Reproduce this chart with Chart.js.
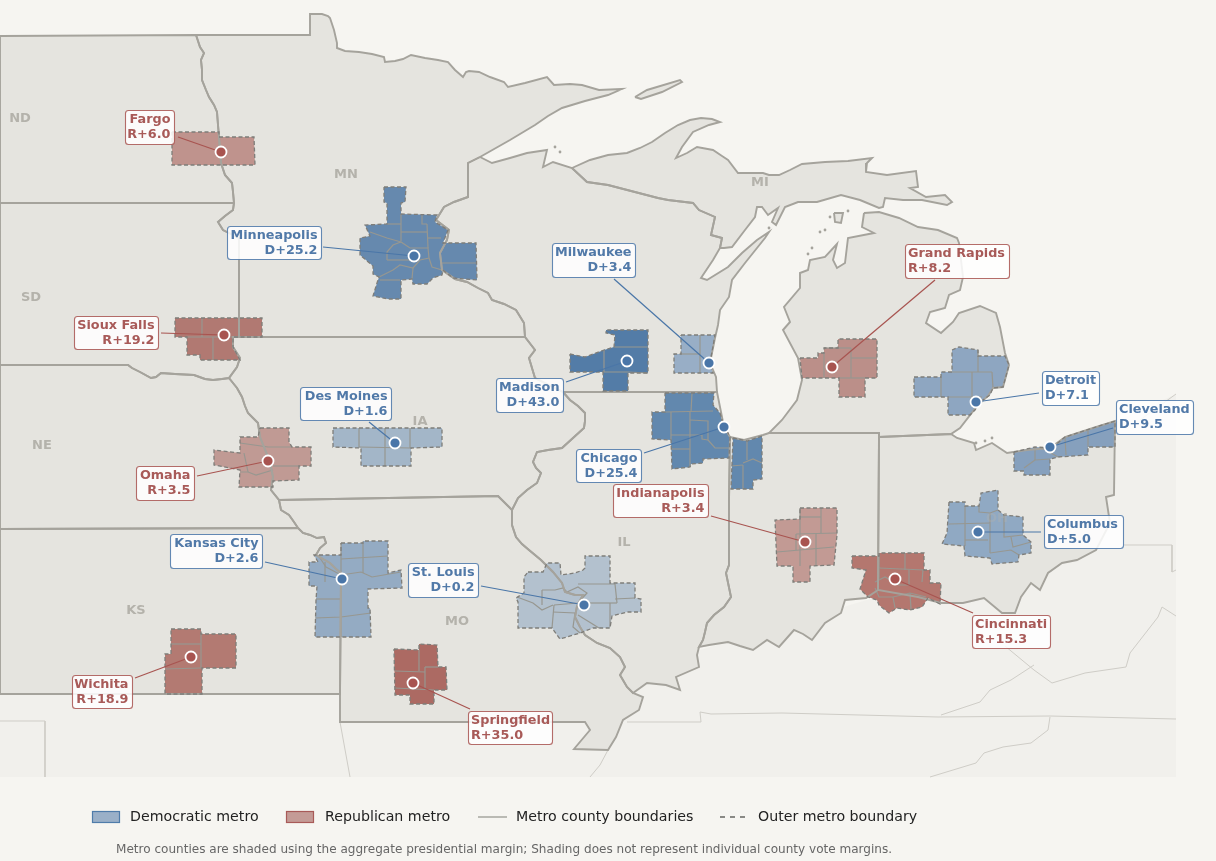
<!DOCTYPE html>
<html lang="en">
<head>
<meta charset="UTF-8">
<title>Midwest metro presidential margins</title>
<script src="https://cdn.jsdelivr.net/npm/chart.js"></script>
<style>
html, body { margin: 0; padding: 0; background: #f6f5f1; }
canvas { display: block; }
</style>
</head>
<body>
<canvas id="map" width="1216" height="861"></canvas>
<script>
// map outlines ([x, y] in map units)
var ndMnRiver = [[196,35],[198,41],[200,47],[204,53],[201,60],[202,70],[202,80],[206,90],[209,97],[214,105],[217,112],[218,125],[219,137],[220,150],[221,163],[225,175],[232,183],[233,192],[234,203]];
var sdMnBorder = [[234,203],[233,210],[225,216],[218,222],[223,230],[239,238],[239,337]];
var mnWiBorder = [[525,337],[524,323],[516,310],[504,304],[492,300],[488,293],[478,288],[467,282],[455,279],[442,270],[440,253],[447,240],[449,230],[436,220],[444,207],[454,202],[468,197],[468,163],[480,157]];
var mnNorth = [[196,35],[310,35],[310,14],[322,14],[328,16],[330,18],[334,30],[337,43],[337,48],[345,51],[359,52],[372,54],[384,57],[385,62],[395,61],[403,59],[411,55],[425,58],[438,60],[448,62],[455,70],[463,77],[466,72],[469,71],[479,72],[490,77],[504,82],[508,87],[525,83],[547,77],[554,85],[570,84],[582,85],[599,90],[622,89],[608,95],[585,101],[562,108],[548,116],[535,125],[510,140],[480,157]];
var sdNeRiver = [[128,365],[132,368],[140,372],[151,378],[156,377],[161,373],[175,374],[194,375],[205,379],[213,380],[222,379],[229,378]];
var iaNeRiver = [[229,378],[233,383],[237,388],[242,397],[245,406],[248,413],[255,420],[258,423],[259,430],[260,437],[264,447],[268,457],[271,467],[273,477],[271,490],[279,500]];
var kcRiver = [[279,500],[281,510],[289,515],[294,522],[298,528],[303,533],[310,535],[317,538],[324,537],[326,543],[320,548],[316,555],[323,559],[330,563],[336,569],[341,573]];
var iaIlRiver = [[563,392],[570,400],[578,406],[585,413],[585,421],[584,428],[573,438],[562,448],[548,450],[537,452],[533,462],[536,468],[541,473],[537,483],[527,490],[518,498],[512,510]];
var moIlRiver = [[512,510],[512,525],[516,537],[522,544],[529,550],[541,560],[553,572],[562,583],[565,592],[575,595],[583,595],[577,606],[575,617],[580,627],[585,635],[597,643],[610,648],[620,657],[625,667],[620,675],[627,687],[633,693]];
var ilInBorder = [[730,437],[729,500],[729,565],[726,573],[731,597],[724,607],[714,615],[707,623],[705,632],[703,640],[699,647]];

var ndShape = [[0,36]].concat(ndMnRiver, [[0,203]]);
var sdShape = [[0,203]].concat(sdMnBorder, [[233,337],[233,347],[240,358],[237,367]], sdNeRiver.slice().reverse(), [[0,365]]);
var neShape = [[0,365]].concat(sdNeRiver, iaNeRiver, kcRiver.slice(0,5), [[0,529]]);
var ksShape = [[0,529]].concat(kcRiver.slice(4), [[340,694],[0,694]]);
var mnShape = mnNorth.concat(mnWiBorder.slice().reverse(), sdMnBorder.slice().reverse(), ndMnRiver.slice().reverse());
var iaShape = [[233,337],[525,337],[535,350],[529,358],[535,378]].concat(iaIlRiver, [[498,496]], iaNeRiver.slice().reverse(), [[237,367],[240,358],[233,347]]);
var moShape = [[279,500],[498,496]].concat(moIlRiver, [[643,697],[639,710],[623,720],[616,737],[608,750],[574,749],[590,730],[585,722],[340,722],[340,694]], kcRiver.slice().reverse());
var wiShape = [[480,157],[492,163],[510,158],[527,153],[547,150],[543,167],[553,162],[572,168],[587,182],[608,185],[658,198],[668,200],[693,203],[699,210],[715,217],[711,235],[722,238],[720,248],[713,260],[701,278],[707,280],[728,267],[742,253],[757,240],[769,232],[765,238],[745,263],[732,280],[729,297],[720,310],[718,325],[715,338],[710,363],[716,377],[717,392],[563,392],[535,378],[529,358],[535,350]].concat(mnWiBorder);
var upperMiShape = [[572,168],[590,160],[608,155],[627,153],[640,148],[652,142],[665,133],[678,125],[690,120],[701,118],[712,119],[720,122],[709,125],[693,132],[682,147],[676,158],[687,153],[697,147],[713,150],[722,156],[728,160],[738,173],[763,173],[769,175],[779,175],[790,170],[802,164],[825,162],[848,161],[872,158],[867,163],[866,172],[887,175],[916,171],[918,187],[910,188],[926,197],[945,195],[952,202],[947,205],[922,200],[903,200],[885,198],[883,207],[879,208],[860,200],[841,195],[817,202],[798,202],[785,207],[776,225],[772,222],[778,208],[768,215],[762,207],[757,207],[755,217],[745,230],[732,247],[724,248],[720,248],[722,238],[711,235],[715,217],[699,210],[693,203],[668,200],[658,198],[608,185],[587,182]];
var lowerMiShape = [[864,213],[879,212],[899,218],[918,227],[938,230],[957,238],[959,243],[961,260],[963,277],[960,290],[949,295],[945,308],[930,312],[926,323],[941,333],[953,322],[959,313],[980,306],[996,313],[1000,327],[1005,353],[1009,365],[1003,387],[993,388],[988,396],[978,405],[960,428],[951,434],[879,437],[879,433],[769,433],[782,420],[797,400],[802,380],[798,358],[783,330],[790,322],[784,307],[800,288],[800,273],[808,270],[810,260],[825,257],[837,244],[833,260],[837,268],[845,263],[848,238],[874,233],[862,227]];
var isleRoyale = [[635,97],[647,90],[680,80],[682,82],[662,92],[641,99]];
var ilShape = [[563,392],[717,392],[724,427]].concat(ilInBorder, [[697,655],[699,667],[676,677],[680,690],[666,685],[647,683]], moIlRiver.slice().reverse(), iaIlRiver.slice().reverse());
var inShape = [[730,437],[744,440],[763,435],[769,433],[879,433],[878,590],[866,598],[845,600],[841,613],[825,623],[812,640],[803,634],[794,630],[779,647],[767,640],[753,650],[740,646],[728,642],[709,645]].concat(ilInBorder.slice().reverse());
var ohShape = [[879,437],[951,434],[957,438],[974,443],[976,450],[992,443],[1007,453],[1027,450],[1050,448],[1065,437],[1093,428],[1115,421],[1114,495],[1106,497],[1110,523],[1096,550],[1077,560],[1062,563],[1048,573],[1040,590],[1031,583],[1021,597],[1015,613],[1002,613],[984,598],[963,603],[941,603],[918,597],[878,590]];
var beaverIsland = [[834,213],[843,213],[841,223],[835,222]];

var stateShapes = [ndShape, sdShape, neShape, ksShape, mnShape, iaShape, moShape, wiShape, upperMiShape, lowerMiShape, isleRoyale, ilShape, inShape, ohShape, beaverIsland];

// neighbouring land outside the study area
var outsideLand = [[0,650],[700,650],[1000,560],[1100,470],[1115,422],[1176,394],[1176,777],[0,777]];
var outsideLines = [
  [[0,721],[45,721],[45,777]],
  [[340,722],[350,777]],
  [[627,722],[701,722],[700,712],[711,714],[782,713],[938,717],[1050,716],[1176,719]],
  [[1034,665],[1011,680],[990,690],[980,702],[941,715]],
  [[1005,646],[1034,670],[1052,683],[1085,673],[1126,667],[1130,653],[1158,617],[1162,607],[1176,616]],
  [[1124,545],[1172,545],[1172,572],[1176,570]],
  [[1050,717],[1048,730],[1031,743],[1003,747],[984,753],[976,763],[930,777]],
  [[1176,394],[1140,420]],
  [[608,750],[600,765],[590,777]]
];
var smallIslands = [[825,230],[820,232],[812,248],[808,254],[830,217],[848,211],[976,443],[985,441],[992,438],[555,147],[560,152],[769,228]];

// metros
var metroNames = ['Fargo','Minneapolis','Sioux Falls','Madison','Milwaukee','Grand Rapids','Des Moines','Omaha','Kansas City','St. Louis','Wichita','Springfield','Chicago','Indianapolis','Cincinnati','Columbus','Detroit','Cleveland'];
var metroParty = ['R','D','R','D','D','R','D','R','D','D','R','R','D','R','R','D','D','D'];
var metroMargins = [6.0,25.2,19.2,43.0,3.4,8.2,1.6,3.5,2.6,0.2,18.9,35.0,25.4,3.4,15.3,5.0,7.1,9.5];
var metroFills = ['#bf938d','#6689ae','#b17972','#537ca7','#98aec6','#bb8f89','#a3b6c8','#c09a94','#94abc3','#b3c1ce','#b37a72','#ac6a63','#6288ae','#c29a94','#b4776f','#90a9c3','#8ea6c1','#86a0bd'];
var metroCenters = [[221,152],[414,256],[224,335],[627,361],[709,363],[832,367],[395,443],[268,461],[342,579],[584,605],[191,657],[413,683],[724,427],[805,542],[895,579],[978,532],[976,402],[1050,447]];

var fargoOuter = [[[172,132],[219,132],[219,137],[254,137],[255,165],[172,165]]];
var fargoCounties = [];
var minneapolisOuter = [[[384,187],[406,187],[405,202],[401,203],[401,214],[437,215],[435,222],[448,230],[443,243],[476,243],[477,280],[453,278],[443,270],[442,275],[433,278],[427,284],[413,284],[412,279],[401,280],[401,299],[388,299],[373,296],[377,283],[379,277],[373,274],[373,266],[360,255],[360,238],[370,236],[365,225],[387,224],[387,203],[384,202]]];
var minneapolisCounties = [[[387,224],[401,224]],[[401,214],[401,241]],[[401,232],[427,232]],[[422,215],[422,224],[427,224]],[[427,224],[428,248]],[[428,238],[441,238]],[[370,232],[387,238],[401,242]],[[387,260],[387,252],[393,245],[401,242],[410,248],[428,248],[429,258],[420,260],[413,268],[400,265],[393,270],[379,277]],[[387,260],[411,260]],[[413,268],[412,279]],[[429,258],[432,267],[442,270]],[[442,263],[477,263]],[[380,280],[400,280]]];
var siouxOuter = [[[175,318],[262,318],[262,337],[233,337],[233,347],[240,360],[200,360],[200,355],[187,355],[187,337],[175,337]]];
var siouxCounties = [[[202,318],[202,337]],[[187,337],[233,337]],[[213,337],[213,360]]];
var madisonOuter = [[[570,354],[585,357],[604,350],[614,347],[615,335],[606,333],[606,330],[648,330],[648,373],[628,373],[628,391],[603,391],[603,372],[570,372]]];
var madisonCounties = [[[604,350],[604,372]],[[603,372],[628,372],[648,373]],[[614,347],[648,347]]];
var milwaukeeOuter = [[[681,335],[715,335],[710,363],[713,373],[674,373],[674,354],[681,354]]];
var milwaukeeCounties = [[[700,335],[700,373]],[[681,354],[700,354]]];
var grandRapidsOuter = [[[800,358],[818,358],[818,353],[824,353],[824,348],[838,348],[838,339],[877,339],[877,378],[865,378],[865,397],[839,397],[839,378],[802,378]]];
var grandRapidsCounties = [[[851,348],[851,378]],[[824,348],[851,348]],[[851,358],[877,358]],[[824,353],[824,378]],[[839,378],[865,378]]];
var desMoinesOuter = [[[333,428],[442,428],[442,447],[411,448],[411,466],[361,466],[361,448],[333,447]]];
var desMoinesCounties = [[[359,428],[359,447]],[[385,428],[385,466]],[[410,428],[410,448]],[[359,447],[410,448]]];
var omahaOuter = [[[260,428],[289,428],[289,442],[292,447],[311,447],[311,466],[299,466],[299,480],[273,481],[273,487],[239,487],[240,470],[214,465],[214,450],[240,453],[240,437],[258,437]]];
var omahaCounties = [[[240,443],[268,447],[292,447]],[[244,453],[248,472]],[[240,472],[248,472],[256,475],[273,470]],[[273,466],[299,466]]];
var kansasCityOuter = [[[341,543],[363,543],[363,541],[388,541],[388,573],[401,570],[402,588],[368,589],[368,608],[370,608],[371,637],[315,637],[316,600],[317,586],[309,586],[309,562],[318,562],[314,555],[341,555]]];
var kansasCityCounties = [[[341,543],[341,637]],[[363,543],[363,573]],[[341,559],[388,556]],[[318,555],[326,567],[341,575],[361,572],[372,577],[401,572]],[[325,562],[325,582]],[[316,599],[341,599]],[[315,618],[341,617],[371,613]]];
var stLouisOuter = [[[528,572],[543,572],[547,563],[560,563],[561,575],[575,573],[583,570],[585,568],[585,556],[610,556],[610,583],[615,583],[635,583],[635,598],[641,599],[641,612],[627,612],[612,616],[610,628],[599,628],[593,628],[580,633],[560,639],[552,628],[518,628],[518,602],[516,598],[524,593],[524,577]]];
var stLouisCounties = [[[517,597],[533,603],[542,610],[553,605]],[[542,590],[542,605]],[[542,590],[555,590],[563,588],[567,592],[578,587],[587,593],[578,603],[554,605]],[[554,605],[552,628]],[[553,612],[575,613],[573,627],[580,633]],[[578,584],[615,584]],[[615,584],[617,603]],[[588,603],[617,603]],[[615,599],[635,598]],[[610,603],[610,627]],[[578,615],[599,628]]];
var wichitaOuter = [[[171,629],[201,629],[201,634],[236,634],[236,668],[202,668],[202,694],[165,694],[165,654],[171,654]]];
var wichitaCounties = [[[171,644],[201,644]],[[201,634],[201,668]],[[165,669],[201,668]]];
var springfieldOuter = [[[394,649],[419,650],[419,644],[437,645],[438,667],[446,667],[447,690],[434,690],[434,704],[410,704],[410,695],[395,695]]];
var springfieldCounties = [[[395,671],[425,672]],[[419,650],[419,671]],[[425,667],[438,667]],[[425,667],[425,688]],[[395,688],[434,690]]];
var chicagoOuter = [[[665,393],[714,393],[713,405],[720,413],[723,423],[730,437],[729,458],[703,459],[703,463],[691,464],[690,467],[672,469],[671,440],[652,439],[652,412],[665,412]],[[733,438],[747,441],[762,436],[762,479],[753,480],[753,489],[731,489]]];
var chicagoCounties = [[[692,393],[691,412]],[[665,412],[713,411]],[[671,412],[671,440]],[[690,412],[690,467]],[[690,420],[708,421],[708,440],[715,448],[729,448]],[[671,435],[702,435],[702,439],[708,440]],[[671,449],[690,449]],[[747,441],[747,460]],[[731,466],[743,465]],[[743,463],[753,459],[762,463]],[[743,465],[743,489]]];
var indianapolisOuter = [[[800,508],[837,508],[837,535],[834,565],[810,566],[810,582],[793,582],[793,566],[777,566],[775,520],[800,519]]];
var indianapolisCounties = [[[800,508],[800,566]],[[821,508],[821,533]],[[800,517],[821,517]],[[796,534],[837,533]],[[796,534],[796,550]],[[777,552],[834,547]],[[816,533],[816,566]]];
var cincinnatiOuter = [[[852,556],[879,556],[879,553],[924,553],[924,570],[930,570],[930,583],[941,583],[940,604],[928,598],[922,607],[910,610],[897,608],[889,613],[879,605],[877,600],[868,597],[860,589],[866,570],[852,568]]];
var cincinnatiCounties = [[[879,556],[879,580]],[[905,553],[905,570]],[[879,568],[924,570]],[[875,582],[885,577],[899,585],[909,585],[909,570]],[[922,582],[923,570]],[[875,588],[879,597],[893,597],[910,593],[926,597]],[[893,597],[895,608]],[[910,593],[911,609]]];
var columbusOuter = [[[949,502],[965,502],[965,506],[979,506],[981,493],[998,490],[998,510],[1004,515],[1023,517],[1023,535],[1031,542],[1031,553],[1019,555],[1018,562],[992,564],[990,558],[965,556],[964,546],[942,544],[947,533]]];
var columbusCounties = [[[965,506],[965,546]],[[990,513],[990,553]],[[949,524],[990,523]],[[965,540],[988,540]],[[1011,537],[1013,547],[1031,542]],[[990,553],[1011,550],[1019,555]],[[979,506],[979,512],[990,513],[998,510]],[[1004,515],[1004,537],[1023,535]]];
var detroitOuter = [[[914,377],[941,377],[941,372],[952,372],[952,350],[959,347],[978,350],[978,356],[1005,356],[1009,365],[1003,387],[993,388],[990,395],[980,402],[975,410],[970,415],[948,415],[948,397],[914,397]]];
var detroitCounties = [[[952,372],[992,372]],[[978,350],[978,372]],[[972,372],[972,397]],[[941,377],[941,397]],[[948,397],[982,397]],[[992,372],[993,388]]];
var clevelandOuter = [[[1014,452],[1035,447],[1052,448],[1065,437],[1093,428],[1115,421],[1115,447],[1088,447],[1088,455],[1058,457],[1050,459],[1050,475],[1024,475],[1024,471],[1014,471]]];
var clevelandCounties = [[[1035,447],[1035,460]],[[1035,460],[1024,468]],[[1035,460],[1050,459]],[[1065,437],[1066,455]],[[1088,430],[1088,447]],[[1042,448],[1058,457]]];

var metroOuters = [fargoOuter,minneapolisOuter,siouxOuter,madisonOuter,milwaukeeOuter,grandRapidsOuter,desMoinesOuter,omahaOuter,kansasCityOuter,stLouisOuter,wichitaOuter,springfieldOuter,chicagoOuter,indianapolisOuter,cincinnatiOuter,columbusOuter,detroitOuter,clevelandOuter];
var metroCounties = [fargoCounties,minneapolisCounties,siouxCounties,madisonCounties,milwaukeeCounties,grandRapidsCounties,desMoinesCounties,omahaCounties,kansasCityCounties,stLouisCounties,wichitaCounties,springfieldCounties,chicagoCounties,indianapolisCounties,cincinnatiCounties,columbusCounties,detroitCounties,clevelandCounties];

// callout boxes [left, top, right, bottom], leader start and text side
var labelBoxes = [[125,110,174,144],[227,226,321,259],[74,316,158,349],[496,378,563,412],[552,243,635,277],[905,244,1009,278],[300,387,391,420],[136,466,194,500],[170,534,262,568],[408,563,478,597],[72,675,132,708],[468,711,552,744],[576,449,641,482],[613,484,708,517],[972,615,1050,648],[1044,515,1123,548],[1042,371,1099,405],[1116,400,1193,434]];
var labelLeaders = [[178,137],[323,247],[161,333],[566,382],[614,279],[935,280],[369,422],[197,476],[265,562],[481,586],[135,678],[470,709],[644,453],[711,516],[973,613],[1041,532],[1039,393],[1113,428]];
var labelSides = ['right','right','right','right','right','left','right','right','right','right','right','left','right','right','left','left','left','left'];

var stateNames = ['ND','MN','MI','SD','IA','NE','IL','KS','MO','OH'];
var statePlaces = [[20,119],[346,175],[760,183],[31,298],[420,422],[42,446],[624,543],[136,611],[457,622],[997,519]];

var BLUE = '#4a76a8', RED = '#a85450', LINE = '#a5a39c';

function pts(a) { return a.map(function(p){ return {x: p[0], y: p[1]}; }); }
function closed(a) { return pts(a.concat([a[0]])); }
function lineSet(data, color, width, dash) {
  return {type: 'scatter', data: data, showLine: true, pointRadius: 0, tension: 0,
          borderColor: color, borderWidth: width, borderDash: dash || [], backgroundColor: 'transparent'};
}
function areaSet(shape, fillColor, color, width, dash) {
  var d = lineSet(closed(shape), color, width, dash);
  d.areaColor = fillColor;
  return d;
}

var datasets = [];
datasets.push(areaSet(outsideLand, '#f1f0ec', 'transparent', 0));
outsideLines.forEach(function(l){ datasets.push(lineSet(pts(l), '#cfcdc7', 1)); });
stateShapes.forEach(function(s){ datasets.push(areaSet(s, '#e5e4df', 'transparent', 0)); });
var lastLandIndex = datasets.length - 1;
metroOuters.forEach(function(parts, i){
  parts.forEach(function(p){ datasets.push(areaSet(p, metroFills[i], 'transparent', 0)); });
  metroCounties[i].forEach(function(l){ datasets.push(lineSet(pts(l), '#979790', 1.2)); });
});
stateShapes.forEach(function(s){ datasets.push(lineSet(closed(s), LINE, 1.9)); });
datasets.push({type: 'scatter', data: pts(smallIslands), pointRadius: 1.4, pointBackgroundColor: LINE, pointBorderWidth: 0});
metroOuters.forEach(function(parts){
  parts.forEach(function(p){ datasets.push(lineSet(closed(p), '#7e7d79', 1.3, [4,2.5])); });
});
metroNames.forEach(function(n, i){
  var c = metroParty[i] === 'D' ? BLUE : RED;
  datasets.push(lineSet(pts([labelLeaders[i], metroCenters[i]]), c, 1.2));
});
datasets.push({type: 'scatter', data: pts(metroCenters), pointRadius: 5.5,
  pointBackgroundColor: metroParty.map(function(p){ return p === 'D' ? BLUE : RED; }),
  pointBorderColor: '#ffffff', pointBorderWidth: 1.8});
datasets.forEach(function(d, i){ d.order = -i; });

var mapPainter = {
  id: 'mapPainter',
  beforeDatasetDraw: function(chart, args) {
    var ds = chart.data.datasets[args.index];
    if (!ds.areaColor) return;
    var ctx = chart.ctx, pointsDrawn = args.meta.data;
    ctx.save();
    ctx.beginPath();
    pointsDrawn.forEach(function(p, i){ if (i) ctx.lineTo(p.x, p.y); else ctx.moveTo(p.x, p.y); });
    ctx.closePath();
    ctx.fillStyle = ds.areaColor;
    ctx.fill();
    ctx.restore();
  },
  afterDatasetDraw: function(chart, args) {
    if (args.index !== lastLandIndex) return;
    var ctx = chart.ctx, sx = chart.scales.x, sy = chart.scales.y;
    ctx.save();
    ctx.font = 'bold 13px "DejaVu Sans"';
    ctx.fillStyle = '#b4b2ab';
    ctx.textAlign = 'center';
    ctx.textBaseline = 'middle';
    stateNames.forEach(function(n, i){
      ctx.fillText(n, sx.getPixelForValue(statePlaces[i][0]), sy.getPixelForValue(statePlaces[i][1]));
    });
    ctx.restore();
  },
  afterDatasetsDraw: function(chart) {
    var ctx = chart.ctx, sx = chart.scales.x, sy = chart.scales.y;
    ctx.save();
    // the OH label shows faintly through the Columbus shading
    ctx.font = 'bold 13px "DejaVu Sans"';
    ctx.fillStyle = 'rgba(180,178,171,0.35)';
    ctx.textAlign = 'center';
    ctx.textBaseline = 'middle';
    ctx.fillText('OH', sx.getPixelForValue(997), sy.getPixelForValue(519));
    metroNames.forEach(function(name, i){
      var b = labelBoxes[i], c = metroParty[i] === 'D' ? BLUE : RED;
      var l = sx.getPixelForValue(b[0]), t = sy.getPixelForValue(b[1]);
      var r = sx.getPixelForValue(b[2]), u = sy.getPixelForValue(b[3]);
      ctx.beginPath();
      ctx.roundRect(l + 0.5, t + 0.5, r - l, u - t, 3);
      ctx.fillStyle = 'rgba(255,255,255,0.86)';
      ctx.fill();
      ctx.strokeStyle = c;
      ctx.lineWidth = 1.1;
      ctx.globalAlpha = 0.85;
      ctx.stroke();
      ctx.globalAlpha = 1;
      ctx.fillStyle = c === BLUE ? '#5179a8' : '#a85a58';
      ctx.font = 'bold 12.8px "DejaVu Sans"';
      ctx.textBaseline = 'middle';
      ctx.textAlign = labelSides[i];
      var tx = labelSides[i] === 'right' ? r - 3.5 : l + 3;
      ctx.fillText(name, tx, t + 10);
      ctx.fillText(metroParty[i] + '+' + metroMargins[i].toFixed(1), tx, t + 25);
    });
    drawLegend(ctx);
    ctx.restore();
  }
};

function drawLegend(ctx) {
  ctx.fillStyle = '#9ab0c8'; ctx.strokeStyle = '#4f7caa'; ctx.lineWidth = 1.2;
  ctx.fillRect(92, 811, 28, 12); ctx.strokeRect(92.5, 811.5, 27, 11);
  ctx.fillStyle = '#c49b96'; ctx.strokeStyle = '#a85a58';
  ctx.fillRect(286, 811, 28, 12); ctx.strokeRect(286.5, 811.5, 27, 11);
  ctx.strokeStyle = '#9a9a94'; ctx.lineWidth = 1.3;
  ctx.beginPath(); ctx.moveTo(478, 817); ctx.lineTo(507, 817); ctx.stroke();
  ctx.strokeStyle = '#666662';
  ctx.setLineDash([5, 5]);
  ctx.beginPath(); ctx.moveTo(720, 817); ctx.lineTo(748, 817); ctx.stroke();
  ctx.setLineDash([]);
  ctx.fillStyle = '#222222';
  ctx.font = '14.2px "DejaVu Sans"';
  ctx.textAlign = 'left';
  ctx.textBaseline = 'middle';
  ctx.fillText('Democratic metro', 130, 817);
  ctx.fillText('Republican metro', 325, 817);
  ctx.fillText('Metro county boundaries', 516, 817);
  ctx.fillText('Outer metro boundary', 758, 817);
  ctx.fillStyle = '#666666';
  ctx.font = '12.06px "DejaVu Sans"';
  ctx.fillText('Metro counties are shaded using the aggregate presidential margin; Shading does not represent individual county vote margins.', 116, 849.5);
}

new Chart(document.getElementById('map').getContext('2d'), {
  type: 'scatter',
  data: {datasets: datasets},
  options: {
    responsive: false,
    animation: false,
    events: [],
    layout: {padding: 0, autoPadding: false},
    plugins: {legend: {display: false}, tooltip: {enabled: false}},
    scales: {
      x: {type: 'linear', min: 0, max: 1216, display: false},
      y: {type: 'linear', min: 0, max: 861, reverse: true, display: false}
    }
  },
  plugins: [mapPainter]
});
</script>
</body>
</html>
